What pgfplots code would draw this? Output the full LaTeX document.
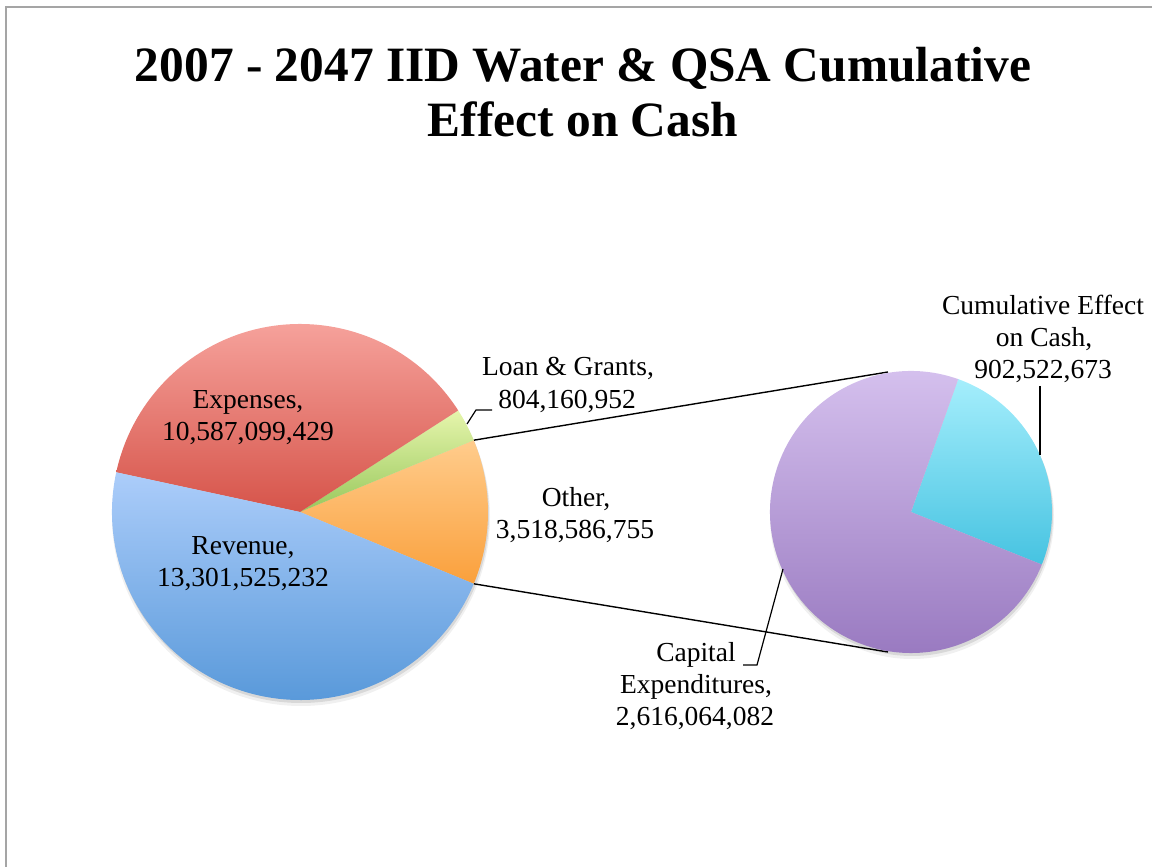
\documentclass[border=0pt]{standalone}
\usepackage{pgfplots}
\pgfplotsset{compat=1.18}
\usepackage{fontspec}
\setmainfont{Liberation Serif}

% slice values
\def\vRev{13301525232}
\def\vExp{10587099429}
\def\vLoan{804160952}
\def\vOth{3518586755}
\def\vCash{902522673}
\def\vCap{2616064082}
\edef\vTot{\fpeval{\vRev+\vExp+\vLoan+\vOth}}

% main pie angles (Other centred on 0 deg)
\edef\aA{-22.45}
\edef\aB{\fpeval{round(\aA+360*\vOth/\vTot,3)}}
\edef\aC{\fpeval{round(\aB+360*\vLoan/\vTot,3)}}
\edef\aD{\fpeval{round(\aC+360*\vExp/\vTot,3)}}
\edef\aE{\fpeval{round(\aA+360,3)}}
% second pie angles
\edef\bA{-21.9}
\edef\bB{\fpeval{round(\bA+360*\vCash/\vOth,3)}}
\edef\bC{\fpeval{round(\bA+360,3)}}

\definecolor{revTop}{RGB}{172,205,250}
\definecolor{revBot}{RGB}{84,150,216}
\definecolor{expTop}{RGB}{250,172,166}
\definecolor{expBot}{RGB}{214,84,74}
\definecolor{loanTop}{RGB}{230,245,172}
\definecolor{loanBot}{RGB}{152,200,92}
\definecolor{othTop}{RGB}{255,204,140}
\definecolor{othBot}{RGB}{250,160,60}
\definecolor{cashTop}{RGB}{165,238,252}
\definecolor{cashBot}{RGB}{70,195,225}
\definecolor{capTop}{RGB}{216,196,240}
\definecolor{capBot}{RGB}{150,118,190}
\definecolor{framegray}{RGB}{165,165,165}

\newcommand{\pieslice}[7]{%
  \shade[top color=#6,bottom color=#7] (axis cs:#1,#2) -- ++(#4:#3)
    arc[start angle=#4,end angle=#5,radius=#3] -- cycle;}
\newcommand{\lblfont}{\fontsize{13.75}{16}\selectfont}
\newcommand{\lbl}[3]{\node[anchor=base,font=\lblfont,inner sep=0pt] at (axis cs:#1,#2) {#3};}

\begin{document}
\begin{tikzpicture}
\path[use as bounding box] (0,0) rectangle (576pt,433.5pt);
\begin{axis}[
  at={(0,0)}, anchor=south west,
  x=0.5pt, y=0.5pt,
  xmin=0, xmax=1152, ymin=0, ymax=867,
  hide axis, clip=false,
]
% frame
\draw[framegray, line width=1pt] (axis cs:6,-5) -- (axis cs:6,860) -- (axis cs:1160,860);

% title
\node[anchor=base,font=\fontsize{24.7}{28}\selectfont\bfseries,inner sep=0pt]
  at (axis cs:583,867-82) {2007 - 2047 IID Water \& QSA Cumulative};
\node[anchor=base,font=\fontsize{24.7}{28}\selectfont\bfseries,inner sep=0pt]
  at (axis cs:583,867-137) {Effect on Cash};

% soft shadows
\fill[black,opacity=0.06] (axis cs:301,350) circle[radius=94.5pt];
\fill[black,opacity=0.10] (axis cs:301,352) circle[radius=94pt];
\fill[black,opacity=0.06] (axis cs:912,350) circle[radius=71pt];
\fill[black,opacity=0.10] (axis cs:912,352) circle[radius=70.5pt];

% connector lines
\draw[line width=0.7pt] (axis cs:300,355) ++(\aB:94pt) -- (axis cs:888,495);
\draw[line width=0.7pt] (axis cs:300,355) ++(\aA:94pt) -- (axis cs:888,215);

% main pie
\pieslice{300}{355}{94pt}{\aA}{\aB}{othTop}{othBot}
\pieslice{300}{355}{94pt}{\aB}{\aC}{loanTop}{loanBot}
\pieslice{300}{355}{94pt}{\aC}{\aD}{expTop}{expBot}
\pieslice{300}{355}{94pt}{\aD}{\aE}{revTop}{revBot}

% second pie
\pieslice{911}{355}{70.5pt}{\bA}{\bB}{cashTop}{cashBot}
\pieslice{911}{355}{70.5pt}{\bB}{\bC}{capTop}{capBot}

% leader lines
\draw[line width=0.6pt] (axis cs:467,867-424) -- (axis cs:476,867-410) -- (axis cs:492,867-410);
\draw[line width=0.6pt] (axis cs:1040,867-386) -- (axis cs:1040,867-455);
\draw[line width=0.6pt] (axis cs:783,867-569) -- (axis cs:757,867-665) -- (axis cs:743,867-665);

% data labels
\lbl{248}{867-409}{Expenses,}
\lbl{248}{867-441}{10,587,099,429}
\lbl{243}{867-555}{Revenue,}
\lbl{243}{867-587}{13,301,525,232}
\lbl{568}{867-376}{Loan \& Grants,}
\lbl{567}{867-409}{804,160,952}
\lbl{576}{867-507}{Other,}
\lbl{575}{867-539}{3,518,586,755}
\lbl{1043}{867-315}{Cumulative Effect}
\lbl{1044}{867-347}{on Cash,}
\lbl{1043}{867-379}{902,522,673}
\lbl{696}{867-662}{Capital}
\lbl{696}{867-694}{Expenditures,}
\lbl{695}{867-726}{2,616,064,082}
\end{axis}
\end{tikzpicture}
\end{document}
